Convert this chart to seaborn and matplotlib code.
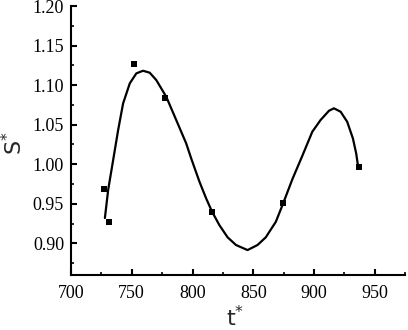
import matplotlib
matplotlib.use("Agg")
import matplotlib.pyplot as plt
import seaborn as sns
import pandas as pd
from matplotlib.ticker import MultipleLocator, FormatStrFormatter

# measured points
t_points = [727.0, 731.1, 751.6, 777.3, 816.1, 874.8, 936.9]
s_points = [0.969, 0.927, 1.127, 1.0835, 0.940, 0.951, 0.9968]

# fitted curve
t_curve = [727.9, 730.6, 734.7, 738.8, 742.9, 748.4, 753.8, 759.3, 764.8, 770.2,
           778.4, 786.6, 794.8, 798.9, 805.7, 811.2, 816.1, 822.1, 828.9, 835.8,
           845.3, 853.5, 860.3, 868.6, 874.6, 882.2, 890.4, 898.6, 905.4, 912.3,
           916.4, 921.9, 927.3, 932.0, 934.7, 936.1]
s_curve = [0.932, 0.9677, 1.0053, 1.0432, 1.077, 1.1023, 1.1149, 1.1182, 1.1157, 1.1064,
           1.0853, 1.0559, 1.0264, 1.0075, 0.978, 0.9569, 0.940, 0.9231, 0.9076, 0.8979,
           0.8915, 0.8979, 0.9076, 0.9273, 0.9505, 0.9811, 1.0107, 1.0411, 1.0559, 1.0676,
           1.0707, 1.0664, 1.0537, 1.0327, 1.0138, 0.999]

x_ticks = [700, 750, 800, 850, 900, 950]
y_ticks = [0.90, 0.95, 1.00, 1.05, 1.10, 1.15, 1.20]

sns.set_style("ticks")
plt.rcParams['font.family'] = 'serif'
plt.rcParams['font.serif'] = ['Liberation Serif', 'DejaVu Serif']

fig = plt.figure(figsize=(4.08, 3.30), dpi=100)
ax = fig.add_axes([0.174, 0.1667, 0.819, 0.815])

df_curve = pd.DataFrame({"t": t_curve, "s": s_curve})
df_pts = pd.DataFrame({"t": t_points, "s": s_points})

sns.lineplot(data=df_curve, x="t", y="s", ax=ax, color="black", linewidth=1.6,
             sort=False, estimator=None)
sns.scatterplot(data=df_pts, x="t", y="s", ax=ax, color="black", marker="s",
                s=24, linewidth=0, zorder=3)

ax.set_xlim(700, 975)
ax.set_ylim(0.86, 1.20)
ax.set_xticks(x_ticks)
ax.set_yticks(y_ticks)
ax.xaxis.set_minor_locator(MultipleLocator(25))
ax.yaxis.set_minor_locator(MultipleLocator(0.025))
ax.yaxis.set_major_formatter(FormatStrFormatter('%.2f'))

sns.despine(ax=ax)
for sp in ["left", "bottom"]:
    ax.spines[sp].set_linewidth(1.5)
    ax.spines[sp].set_color("black")

ax.tick_params(which="major", direction="in", length=4, width=1.5, labelsize=13,
               colors="black", pad=5)
ax.tick_params(which="minor", direction="in", length=2.5, width=1.2, colors="black")
ax.tick_params(axis="x", which="major", pad=7)

ax.set_xlabel("t$^{*}$", fontsize=16, family="DejaVu Sans", va="center")
ax.set_ylabel("S$^{*}$", fontsize=16, family="DejaVu Sans", va="center")
ax.xaxis.set_label_coords(0.491, -0.16)
ax.yaxis.set_label_coords(-0.172, 0.49)

fig.savefig("out.png", dpi=100)
